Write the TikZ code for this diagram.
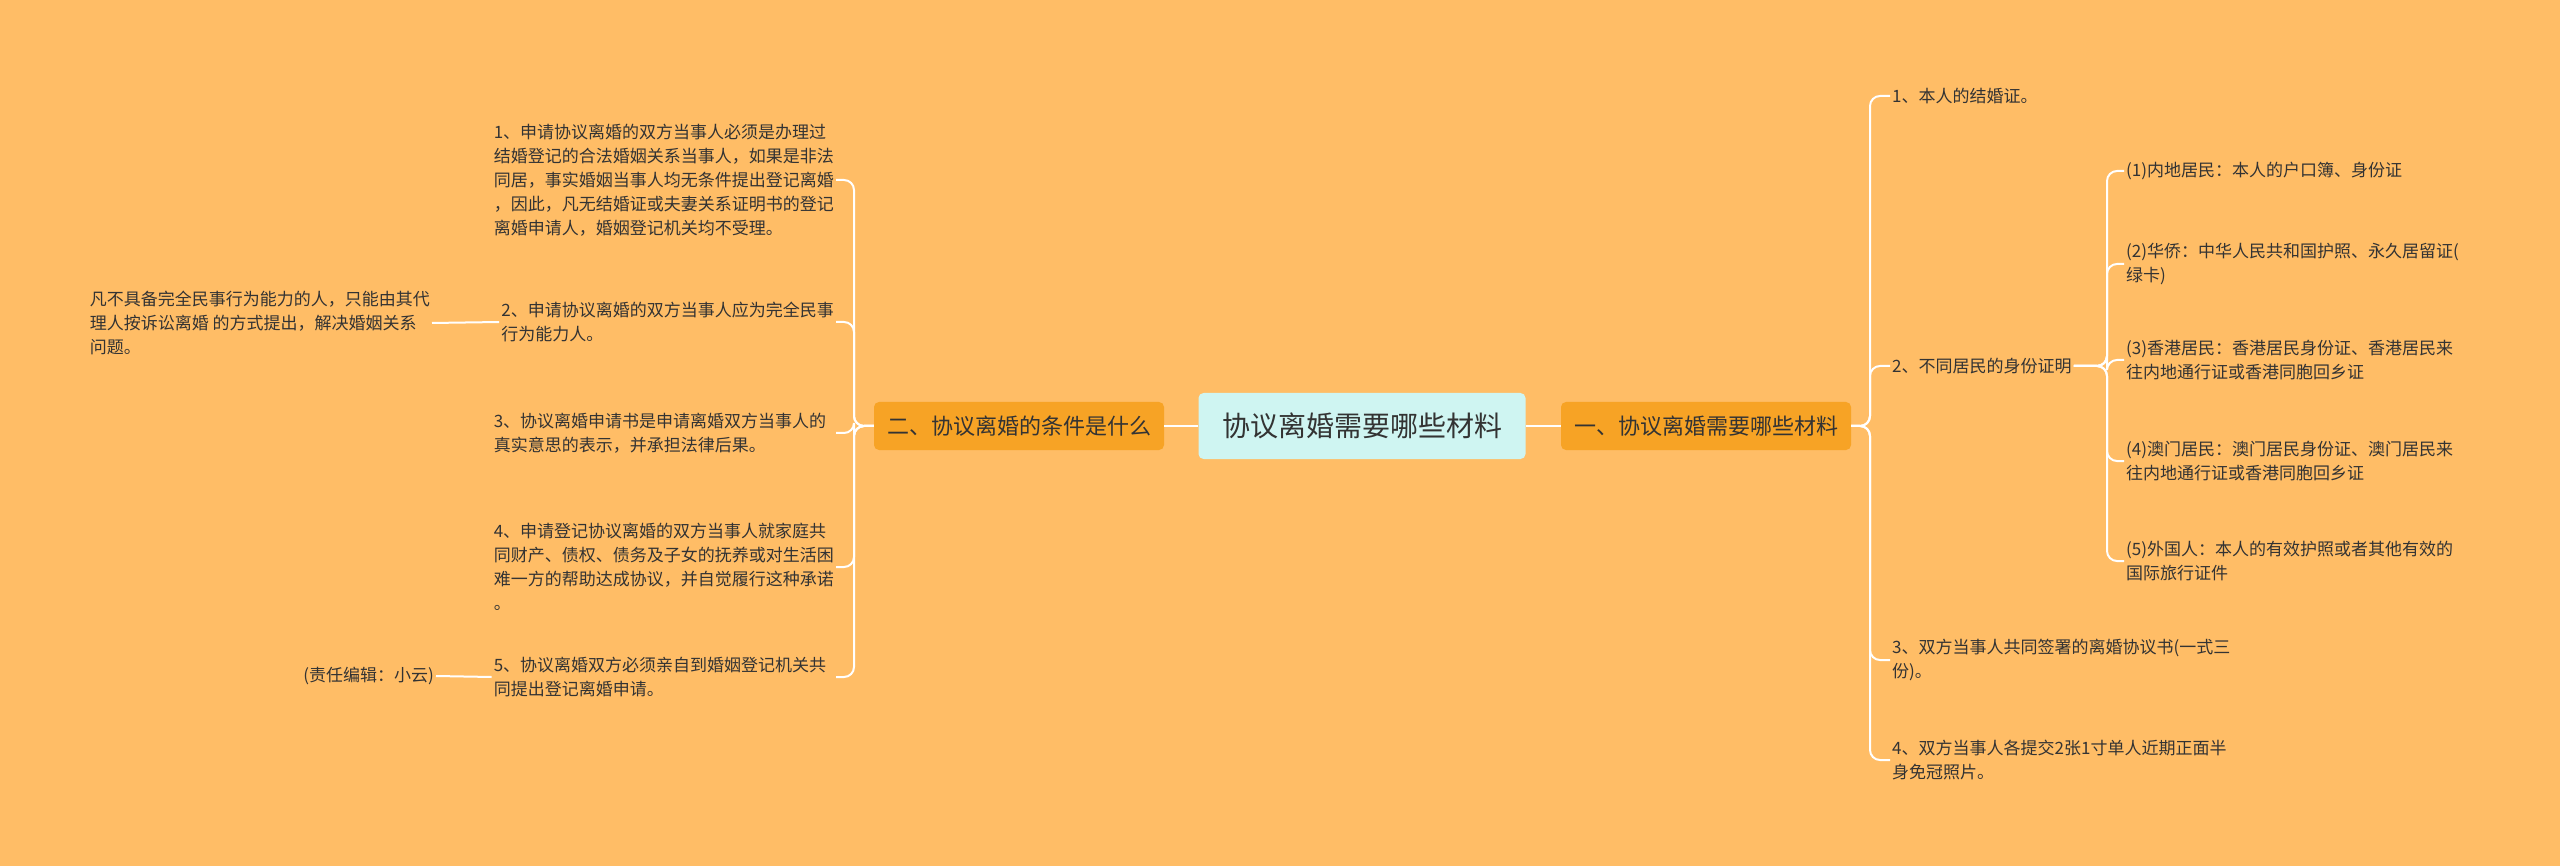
\documentclass[tikz,border=0pt]{standalone}
\usepackage{fontspec}
\setmainfont{Noto Sans CJK SC}
\begin{document}
\begin{tikzpicture}[x=1pt,y=-1pt,
 leaf/.style={inner sep=2pt,font=\fontsize{17}{24}\selectfont,text=black!80,align=left},
 branch/.style={fill=orange!85!yellow!90!red,rounded corners=5,minimum height=48,inner xsep=10,font=\fontsize{22}{26}\selectfont,text=black!80},
 conn/.style={draw=white,line width=2,rounded corners=10}]
\definecolor{bg}{HTML}{FFBD66}
\definecolor{br}{HTML}{F7A325}
\definecolor{ct}{HTML}{CFF5F2}
\fill[bg] (0,0) rectangle (2560,866);
\useasboundingbox (0,0) rectangle (2560,866);
\node[fill=ct,rounded corners=5,minimum width=327,minimum height=66,font=\fontsize{28}{32}\selectfont,text=black!80] (c) at (1362,426) {协议离婚需要哪些材料};
\node[branch,fill=br,minimum width=290] (r) at (1706,426) {一、协议离婚需要哪些材料};
\node[branch,fill=br,minimum width=290] (l) at (1019,426) {二、协议离婚的条件是什么};
\draw[conn] (c.east) -- (r.west);
\draw[conn] (c.west) -- (l.east);
% right side
\node[leaf,anchor=west] (r1) at (1890,96) {1、本人的结婚证。};
\node[leaf,anchor=west] (r2) at (1890,366) {2、不同居民的身份证明};
\node[leaf,anchor=west] (r3) at (1890,660) {3、双方当事人共同签署的离婚协议书(一式三\\份)。};
\node[leaf,anchor=west] (r4) at (1890,760) {4、双方当事人各提交2张1寸单人近期正面半\\身免冠照片。};
\foreach \n in {r1,r2,r3,r4} \draw[conn] (r.east) -- (1870,426) |- (\n.west);
\node[leaf,anchor=west] (s1) at (2124,171) {(1)内地居民：本人的户口簿、身份证};
\node[leaf,anchor=west] (s2) at (2124,264) {(2)华侨：中华人民共和国护照、永久居留证(\\绿卡)};
\node[leaf,anchor=west] (s3) at (2124,360) {(3)香港居民：香港居民身份证、香港居民来\\往内地通行证或香港同胞回乡证};
\node[leaf,anchor=west] (s4) at (2124,461) {(4)澳门居民：澳门居民身份证、澳门居民来\\往内地通行证或香港同胞回乡证};
\node[leaf,anchor=west] (s5) at (2124,561) {(5)外国人：本人的有效护照或者其他有效的\\国际旅行证件};
\foreach \n in {s1,s2,s3,s4,s5} \draw[conn] (r2.east) -- (2107,366) |- (\n.west);
% left side
\node[leaf,anchor=east] (l1) at (836,180) {1、申请协议离婚的双方当事人必须是办理过\\结婚登记的合法婚姻关系当事人，如果是非法\\同居，事实婚姻当事人均无条件提出登记离婚\\，因此，凡无结婚证或夫妻关系证明书的登记\\离婚申请人，婚姻登记机关均不受理。};
\node[leaf,anchor=east] (l2) at (836,322) {2、申请协议离婚的双方当事人应为完全民事\\行为能力人。\phantom{完全民事完全民事完全民}};
\node[leaf,anchor=east] (l3) at (836,433) {3、协议离婚申请书是申请离婚双方当事人的\\真实意思的表示，并承担法律后果。\phantom{完全民事}};
\node[leaf,anchor=east] (l4) at (836,567) {4、申请登记协议离婚的双方当事人就家庭共\\同财产、债权、债务及子女的抚养或对生活困\\难一方的帮助达成协议，并自觉履行这种承诺\\。};
\node[leaf,anchor=east] (l5) at (836,677) {5、协议离婚双方必须亲自到婚姻登记机关共\\同提出登记离婚申请。\phantom{完全民事完全民事完全}};
\foreach \n in {l1,l2,l3,l4,l5} \draw[conn] (l.west) -- (854,426) |- (\n.east);
\node[leaf,anchor=east] (m1) at (432,323) {凡不具备完全民事行为能力的人，只能由其代\\理人按诉讼离婚 的方式提出，解决婚姻关系\\问题。};
\node[leaf,anchor=east] (m2) at (436,676) {(责任编辑：小云)};
\draw[conn] (l2.west) -- (m1.east);
\draw[conn] (l5.west) -- (m2.east);
\end{tikzpicture}
\end{document}
